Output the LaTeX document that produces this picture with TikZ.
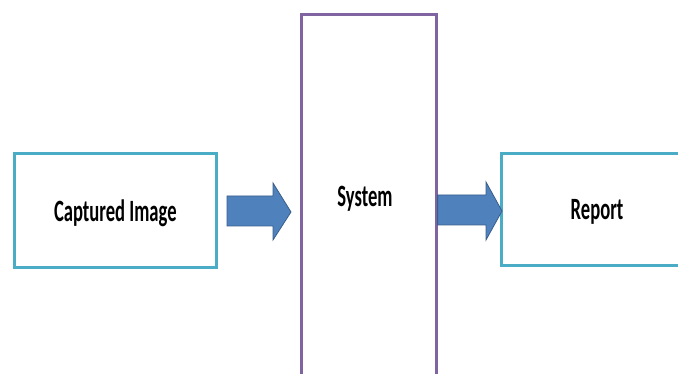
\documentclass[tikz,border=0pt]{standalone}
\usepackage{fontspec}
\setmainfont{Carlito}
\usepackage{graphicx}
\definecolor{boxblue}{HTML}{4BACC6}
\definecolor{syspurple}{HTML}{8064A2}
\definecolor{arrfill}{HTML}{4F81BD}
\definecolor{arrdraw}{HTML}{385D8A}
\newcommand{\lbl}[1]{\scalebox{0.6}[1]{\fontsize{31}{31}\selectfont\bfseries #1}}
\begin{document}
\begin{tikzpicture}[x=1pt,y=1pt,
  iobox/.style={draw=boxblue, line width=2.6pt, fill=white, rectangle, inner sep=0pt},
  sysbox/.style={draw=syspurple, line width=2.6pt, fill=white, rectangle, inner sep=0pt},
  bigarrow/.style={fill=arrfill, draw=arrdraw, line width=0.8pt, line join=miter}]
\useasboundingbox (0,0) rectangle (678,374);
\clip (0,0) rectangle (678,374);
% System box (open at the bottom, beyond the page)
\node[sysbox, minimum width=135pt, minimum height=400pt, anchor=north west] (sys) at (300,361) {};
\node (systxt) at (365,175) {\lbl{System}};
% Captured image box
\node[iobox, minimum width=202pt, minimum height=114pt, anchor=north west] (cap) at (13,222) {};
\node at ([yshift=-3pt]cap.center) {\lbl{Captured Image}};
% Report box (runs past right edge)
\node[iobox, minimum width=200pt, minimum height=112pt, anchor=north west] (rep) at (500,222) {};
\node at (597,162) {\lbl{Report}};
% arrows
\draw[bigarrow] (227,178) -- (273,178) -- (273,191) -- (291,162) -- (273,134) -- (273,148) -- (227,148) -- cycle;
\draw[bigarrow] (sys.east |- 0,179) -- (486,179) -- (486,192) -- (502,163) -- (486,134) -- (486,149) -- (sys.east |- 0,149) -- cycle;
\end{tikzpicture}
\end{document}
